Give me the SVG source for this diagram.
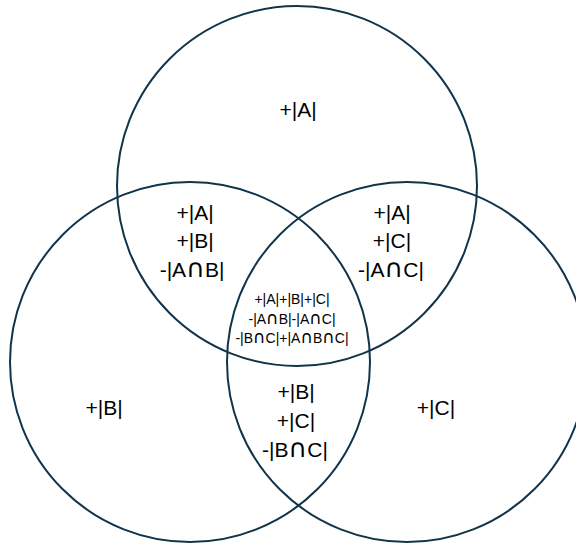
<svg xmlns="http://www.w3.org/2000/svg" width="576" height="544" viewBox="0 0 576 544">
<style>
.c{fill:none;stroke:#11344a;stroke-width:2}
.t{font-family:"Liberation Sans","DejaVu Sans",sans-serif;font-size:21px;fill:#000;text-anchor:middle}
.s{font-family:"Liberation Sans","DejaVu Sans",sans-serif;font-size:14px;fill:#000;text-anchor:middle}
.n{font-family:"DejaVu Sans",sans-serif;font-size:1.22em}
</style>
<rect width="576" height="544" fill="#fff"/>
<g id="circleA"><circle class="c" cx="297" cy="186" r="180"/></g>
<g id="circleB"><circle class="c" cx="190" cy="362" r="180"/></g>
<g id="circleC"><circle class="c" cx="407" cy="362" r="180"/></g>
<g id="onlyA"><text class="t" x="298" y="117">+|A|</text></g>
<g id="AB"><text class="t" x="195" y="220">+|A|</text><text class="t" x="195" y="248">+|B|</text><text class="t" x="192" y="277">-|A<tspan class="n">∩</tspan>B|</text></g>
<g id="AC"><text class="t" x="392" y="220">+|A|</text><text class="t" x="392" y="248">+|C|</text><text class="t" x="391" y="277">-|A<tspan class="n">∩</tspan>C|</text></g>
<g id="ABC"><text class="s" x="292" y="304">+|A|+|B|+|C|</text><text class="s" x="292" y="324">-|A<tspan class="n">∩</tspan>B|-|A<tspan class="n">∩</tspan>C|</text><text class="s" x="292" y="343">-|B<tspan class="n">∩</tspan>C|+|A<tspan class="n">∩</tspan>B<tspan class="n">∩</tspan>C|</text></g>
<g id="onlyB"><text class="t" x="104" y="415">+|B|</text></g>
<g id="onlyC"><text class="t" x="436" y="415">+|C|</text></g>
<g id="BC"><text class="t" x="296" y="399">+|B|</text><text class="t" x="296" y="428">+|C|</text><text class="t" x="295" y="457">-|B<tspan class="n">∩</tspan>C|</text></g>
<g id="connectors"></g>
</svg>
